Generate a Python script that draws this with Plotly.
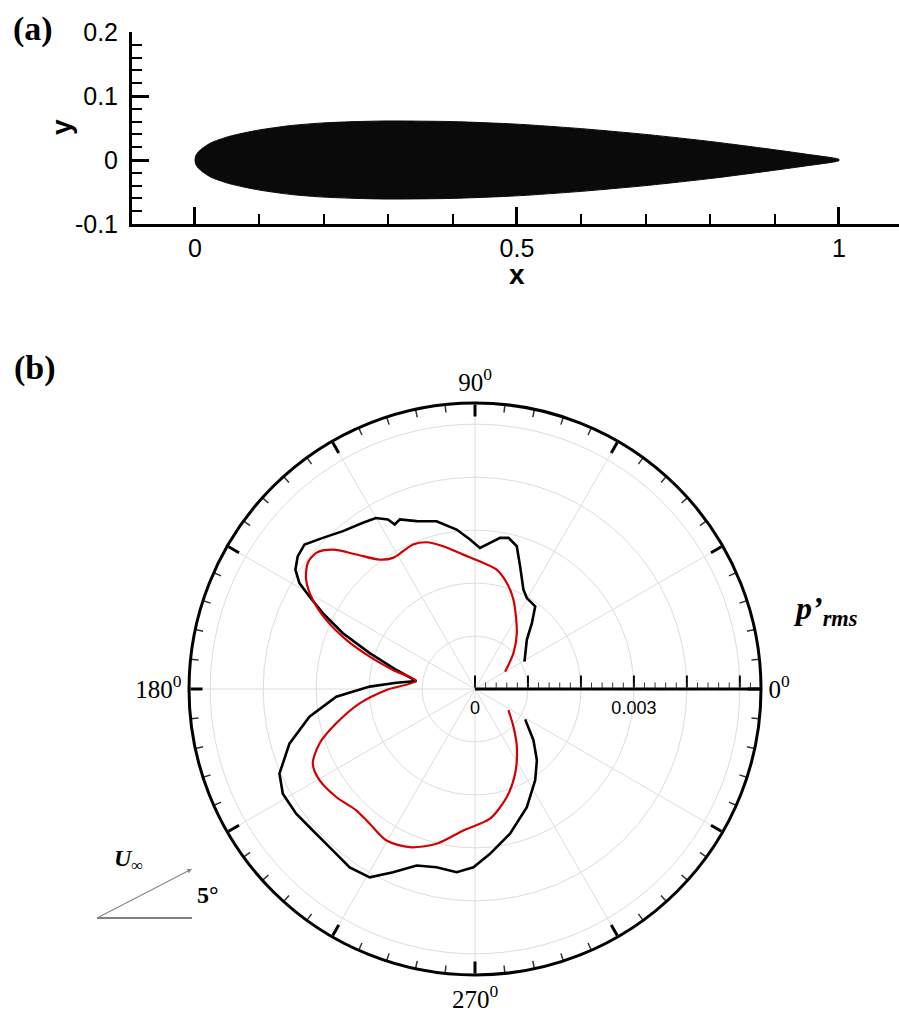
import plotly.graph_objects as go

W, H = 899, 1014

# ---------------- (a) airfoil section ----------------
airfoil_x = [0.0, 0.001, 0.0025, 0.005, 0.0125, 0.025, 0.05, 0.075, 0.1, 0.15, 0.2,
             0.25, 0.3, 0.4, 0.5, 0.6, 0.7, 0.8, 0.9, 0.95, 1.0]
airfoil_y_upper = [0.0, 0.006, 0.009, 0.0125, 0.019, 0.027, 0.036, 0.042, 0.047, 0.054,
                   0.058, 0.060, 0.061, 0.060, 0.056, 0.049, 0.040, 0.029, 0.016, 0.009,
                   0.001]

# ---------------- (b) polar directivity of p'rms ----------------
theta_black = [29.0, 43.5, 49.2, 53.9, 60.3, 64.0, 69.8, 73.7, 77.5, 80.6,
               84.1, 88.0, 91.9, 96.6, 102.9, 109.2, 113.9, 116.0, 117.2, 120.1,
               124.0, 129.9, 135.2, 139.7, 143.2, 146.4, 148.9, 150.8, 153.5, 157.1,
               161.2, 166.4, 172.3, 175.4, 178.7, 183.2, 189.5, 196.4, 203.4, 208.6,
               214.9, 221.1, 228.6, 234.9, 240.8, 245.9, 251.7, 257.8, 264.3, 269.5,
               275.2, 283.6, 293.7, 303.4, 311.0, 318.8, 328.8]
r_black = [1.068, 1.349, 1.644, 1.929, 1.977, 2.086, 2.468, 2.809, 2.923, 2.893,
           2.774, 2.666, 2.823, 3.031, 3.250, 3.356, 3.502, 3.456, 3.597, 3.731,
           3.785, 3.886, 4.050, 4.220, 4.181, 4.071, 3.872, 3.581, 3.211, 2.708,
           2.100, 1.526, 1.115, 1.488, 1.989, 2.623, 3.169, 3.652, 4.023, 4.133,
           4.117, 4.063, 4.062, 4.115, 4.073, 3.790, 3.511, 3.443, 3.477, 3.366,
           3.125, 2.812, 2.435, 2.064, 1.781, 1.467, 1.107]

theta_red = [30.0, 43.0, 53.2, 66.7, 73.3, 79.7, 86.2, 95.0, 102.6, 108.3,
             113.2, 117.6, 122.0, 126.4, 131.4, 135.6, 139.4, 143.0, 147.1, 151.2,
             155.1, 159.1, 162.9, 166.9, 172.3, 180.6, 187.1, 193.9, 199.3, 204.7,
             210.4, 217.9, 225.6, 232.0, 239.7, 247.6, 256.1, 265.3, 276.6, 286.4,
             295.4, 305.9, 315.5, 327.8]
r_red = [0.656, 0.992, 1.318, 1.835, 2.090, 2.291, 2.386, 2.547, 2.761, 2.918,
         2.967, 2.934, 2.919, 3.034, 3.386, 3.759, 3.949, 3.954, 3.797, 3.496,
         3.098, 2.601, 2.081, 1.589, 1.128, 1.672, 2.195, 2.699, 3.110, 3.371,
         3.404, 3.320, 3.205, 3.229, 3.313, 3.231, 3.011, 2.680, 2.465, 2.126,
         1.767, 1.348, 1.018, 0.746]

r_scale = 1e-3            # r arrays are in units of 1e-3
r_max = 0.0054
radial_major = [0, 0.001, 0.002, 0.003, 0.004, 0.005]
radial_minor = [i * 0.0002 for i in range(27)]
radial_labels = [0, 0.003]
radial_label_text = ["0", "0.003"]
angle_major = list(range(0, 360, 30))
angle_minor = [a for a in range(0, 360, 6) if a % 30]
angle_labels = [0, 90, 180, 270]
angle_label_text = ["0<sup>0</sup>", "90<sup>0</sup>", "180<sup>0</sup>", "270<sup>0</sup>"]

SANS = "Liberation Sans, Arial, sans-serif"
SERIF = "Liberation Serif, Times New Roman, serif"

POLAR_RADIUS_PX = 286
MINOR_TICK_PX = 8


def px_x(p):
    return p / W


def px_y(p):
    return 1 - p / H


POLAR_DOMAIN = dict(x=[px_x(189), px_x(761)], y=[px_y(975), px_y(403)])

fig = go.Figure()

# airfoil outline: upper surface forward, lower surface back
ax_closed = airfoil_x + airfoil_x[::-1]
ay_closed = airfoil_y_upper + [-v for v in airfoil_y_upper[::-1]]
fig.add_trace(go.Scatter(x=ax_closed, y=ay_closed, mode="lines", fill="toself",
                         fillcolor="#0a0a0a",
                         line=dict(color="#0a0a0a", width=1, shape="spline", smoothing=0.6),
                         xaxis="x", yaxis="y", showlegend=False, hoverinfo="skip"))

fig.add_trace(go.Scatterpolar(theta=theta_black, r=[v * r_scale for v in r_black],
                              mode="lines", line=dict(color="black", width=2.6),
                              subplot="polar", showlegend=False))
fig.add_trace(go.Scatterpolar(theta=theta_red, r=[v * r_scale for v in r_red],
                              mode="lines", line=dict(color="#d40000", width=2.2,
                                                      shape="spline", smoothing=0.8),
                              subplot="polar", showlegend=False))

# minor tick marks on the outer circle, every 6 degrees (one short segment each)
r_in = r_max * (1 - MINOR_TICK_PX / POLAR_RADIUS_PX)
for a in angle_minor:
    fig.add_trace(go.Scatterpolar(theta=[a, a], r=[r_in, r_max * 0.999], mode="lines",
                                  line=dict(color="#333333", width=1.5),
                                  subplot="polar", showlegend=False, hoverinfo="skip"))

# invisible traces so the overlay polars (minor ticks, labels) are rendered
for sp in ("polar2", "polar3"):
    fig.add_trace(go.Scatterpolar(theta=[0], r=[0], mode="markers",
                                  marker=dict(size=1, opacity=0),
                                  subplot=sp, showlegend=False, hoverinfo="skip"))

fig.update_layout(
    width=W, height=H,
    margin=dict(l=0, r=0, t=0, b=0, autoexpand=False),
    paper_bgcolor="white", plot_bgcolor="white",
    xaxis=dict(domain=[px_x(132), 1.0], range=[-0.0978, 1.0932], anchor="y",
               automargin=False,
               showline=True, linecolor="black", linewidth=3,
               showgrid=False, zeroline=False,
               tickmode="array", tickvals=[0, 0.5, 1], ticktext=["0", "0.5", "1"],
               ticks="inside", ticklen=17, tickwidth=3, tickcolor="black",
               minor=dict(dtick=0.1, tick0=0, ticks="inside", ticklen=10,
                          tickwidth=1.5, tickcolor="black", showgrid=False),
               tickfont=dict(family=SANS, size=25, color="black")),
    yaxis=dict(domain=[px_y(224), px_y(32)], range=[-0.1, 0.2], anchor="x",
               automargin=False,
               showline=True, linecolor="black", linewidth=3,
               showgrid=False, zeroline=False,
               tickmode="array", tickvals=[-0.1, 0, 0.1, 0.2],
               ticktext=["-0.1", "0", "0.1", "0.2"],
               ticks="inside", ticklen=17, tickwidth=3, tickcolor="black",
               minor=dict(dtick=0.02, tick0=0, ticks="inside", ticklen=10,
                          tickwidth=1.5, tickcolor="black", showgrid=False),
               tickfont=dict(family=SANS, size=25, color="black"),
               ticklabelstandoff=6),
    # main polar: grid, outline, major ticks
    polar=dict(
        domain=POLAR_DOMAIN,
        bgcolor="rgba(0,0,0,0)",
        radialaxis=dict(range=[0, r_max], angle=0, side="clockwise",
                        tickmode="array", tickvals=radial_major, showticklabels=False,
                        showline=True, linecolor="black", linewidth=3,
                        ticks="inside", ticklen=12, tickwidth=2.2, tickcolor="black",
                        showgrid=True, gridcolor="#dddddd", gridwidth=1),
        angularaxis=dict(direction="counterclockwise", rotation=0,
                         tickmode="array", tickvals=angle_major, showticklabels=False,
                         showline=True, linecolor="black", linewidth=3,
                         ticks="inside", ticklen=12, tickwidth=2.5, tickcolor="black",
                         showgrid=True, gridcolor="#dddddd", gridwidth=1),
    ),
    # overlay: radial minor ticks
    polar2=dict(
        domain=POLAR_DOMAIN,
        bgcolor="rgba(0,0,0,0)",
        radialaxis=dict(range=[0, r_max], angle=0, side="clockwise",
                        tickmode="array", tickvals=radial_minor,
                        showline=True, linecolor="rgba(0,0,0,0)", linewidth=1,
                        ticks="inside", ticklen=6, tickwidth=1.2, tickcolor="#333333",
                        showgrid=False, showticklabels=False),
        angularaxis=dict(direction="counterclockwise", rotation=0,
                         showline=False, ticks="", showgrid=False, showticklabels=False),
    ),
    # overlay: tick labels
    polar3=dict(
        domain=POLAR_DOMAIN,
        bgcolor="rgba(0,0,0,0)",
        radialaxis=dict(range=[0, r_max], angle=0, side="clockwise",
                        tickmode="array", tickvals=radial_labels, ticktext=radial_label_text,
                        showline=False, ticks="outside", ticklen=3,
                        tickcolor="rgba(0,0,0,0)", showgrid=False, tickangle=0,
                        tickfont=dict(family=SANS, size=18, color="black")),
        angularaxis=dict(direction="counterclockwise", rotation=0,
                         tickmode="array", tickvals=angle_labels, ticktext=angle_label_text,
                         showline=False, ticks="outside", ticklen=2,
                         tickcolor="rgba(0,0,0,0)", showgrid=False,
                         tickfont=dict(family=SERIF, size=25, color="black")),
    ),
)

annotations = [
    dict(text="<b>(a)</b>", x=px_x(33), y=px_y(29), font=dict(family=SERIF, size=34)),
    dict(text="<b>(b)</b>", x=px_x(35), y=px_y(368), font=dict(family=SERIF, size=34)),
    dict(text="<b>x</b>", x=px_x(517), y=px_y(275), font=dict(family=SANS, size=28)),
    dict(text="<b>y</b>", x=px_x(62), y=px_y(127), font=dict(family=SANS, size=28),
         textangle=-90),
    dict(text="<b><i>p’</i></b><sub><b><i>rms</i></b></sub>", x=px_x(825), y=px_y(610),
         font=dict(family=SERIF, size=32)),
    dict(text="<b><i>U</i></b><sub>∞</sub>", x=px_x(128), y=px_y(860),
         font=dict(family=SERIF, size=24)),
    dict(text="<b>5°</b>", x=px_x(208), y=px_y(895), font=dict(family=SERIF, size=24)),
]
for a in annotations:
    a.update(xref="paper", yref="paper", showarrow=False, xanchor="center", yanchor="middle")
    a["font"]["color"] = "black"

# free-stream direction arrow (tail offset given in pixels from the head)
annotations.append(dict(x=px_x(192), y=px_y(869), ax=97 - 192, ay=918 - 869,
                        xref="paper", yref="paper", axref="pixel", ayref="pixel",
                        text="", showarrow=True, arrowhead=2, arrowsize=0.8,
                        arrowwidth=1.2, arrowcolor="#888888"))
fig.update_layout(annotations=annotations)

fig.add_shape(type="line", xref="paper", yref="paper",
              x0=px_x(97), x1=px_x(192), y0=px_y(918), y1=px_y(918),
              line=dict(color="#555555", width=1.6))

fig.write_html("out.html")
